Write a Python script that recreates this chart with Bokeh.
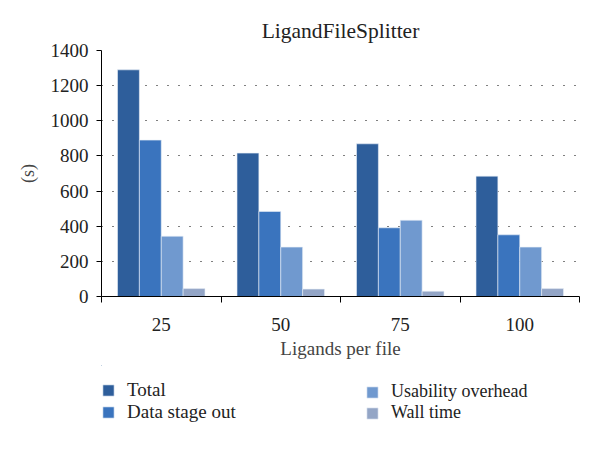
from bokeh.plotting import figure
from bokeh.layouts import column
from bokeh.models import ColumnDataSource, FixedTicker, Legend, LegendItem, Range1d
from bokeh.transform import dodge
from bokeh.embed import file_html
from bokeh.resources import INLINE

categories = ["25", "50", "75", "100"]
series_names = ["Total", "Data stage out", "Usability overhead", "Wall time"]
total = [1290, 816, 869, 685]
data_stage_out = [890, 484, 391, 351]
usability_overhead = [343, 281, 434, 281]
wall_time = [45, 42, 30, 45]
colors = ["#2E5E9B", "#3A74BE", "#7099CF", "#93A5C6"]
y_ticks = [0, 200, 400, 600, 800, 1000, 1200, 1400]

FONT = "Liberation Serif"

xs = [i + 0.5 for i in range(len(categories))]
source = ColumnDataSource(dict(x=xs, total=total, dso=data_stage_out,
                               uo=usability_overhead, wt=wall_time))

p = figure(width=592, height=365, output_backend="svg", toolbar_location=None,
           x_range=Range1d(0, len(categories)), y_range=Range1d(0, 1400),
           min_border_left=101, min_border_right=13, min_border_top=50,
           min_border_bottom=69, title="LigandFileSplitter")
p.outline_line_color = None
p.background_fill_color = "white"

w = 0.183
cols = ["total", "dso", "uo", "wt"]
for k, (c, col) in enumerate(zip(cols, colors)):
    off = (k - 1.5) * w
    p.vbar(x=dodge("x", off), top=c, width=w, source=source,
           fill_color=col, line_color="#E8EEF6", line_width=0.6)

# title
p.title.text_font = FONT
p.title.text_font_size = "21.5px"
p.title.text_font_style = "normal"
p.title.align = "center"
p.title.text_color = "#222222"
p.title.standoff = 15

# y axis
p.yaxis.ticker = FixedTicker(ticks=y_ticks)
p.yaxis.axis_label = "(s)"
p.yaxis.axis_label_text_font = FONT
p.yaxis.axis_label_text_font_size = "18px"
p.yaxis.axis_label_text_font_style = "normal"
p.yaxis.axis_label_standoff = 10
p.yaxis.major_label_text_font = FONT
p.yaxis.major_label_text_font_size = "19px"
p.yaxis.major_label_text_color = "#222222"
p.yaxis.major_tick_out = 5
p.yaxis.major_tick_in = 0
p.yaxis.minor_tick_line_color = None
p.yaxis.axis_line_color = "black"
p.yaxis.major_tick_line_color = "black"
p.yaxis.major_label_standoff = 8

# x axis
p.xaxis.ticker = FixedTicker(ticks=xs, minor_ticks=list(range(len(categories) + 1)))
p.xaxis.major_label_overrides = {x: c for x, c in zip(xs, categories)}
p.xaxis.major_tick_line_color = None
p.xaxis.minor_tick_line_color = "black"
p.xaxis.minor_tick_out = 6
p.xaxis.minor_tick_in = 0
p.xaxis.axis_label = "Ligands per file"
p.xaxis.axis_label_text_font = FONT
p.xaxis.axis_label_text_font_size = "19px"
p.xaxis.axis_label_text_font_style = "normal"
p.xaxis.axis_label_standoff = 4
p.xaxis.major_label_text_font = FONT
p.xaxis.major_label_text_font_size = "19px"
p.xaxis.major_label_text_color = "#222222"
p.xaxis.major_label_standoff = 15
p.xaxis.axis_line_color = "black"

# grid
p.xgrid.grid_line_color = None
p.ygrid.ticker = FixedTicker(ticks=y_ticks[1:])
p.ygrid.grid_line_color = "black"
p.ygrid.grid_line_dash = "1 10"
p.ygrid.grid_line_width = 1.2

# legend panel (separate figure below the chart); its bars lie outside its view
lp = figure(width=592, height=76, output_backend="svg", toolbar_location=None,
            x_axis_type=None, y_axis_type=None, min_border=0,
            x_range=Range1d(100, 101), y_range=Range1d(-2000, -1000))
lp.outline_line_color = None
lp.grid.grid_line_color = None
swatches = []
for k, (c, col) in enumerate(zip(cols, colors)):
    off = (k - 1.5) * w
    swatches.append(lp.vbar(x=dodge("x", off), top=c, width=w, source=source,
                            fill_color=col, line_color="#E8EEF6", line_width=0.6))

def make_legend(idx, loc, size):
    items = [LegendItem(label=series_names[i], renderers=[swatches[i]]) for i in idx]
    return Legend(items=items, location=loc, orientation="vertical",
                  glyph_width=14, glyph_height=14, label_height=14, spacing=0,
                  label_standoff=12, padding=0, margin=0,
                  border_line_color=None, background_fill_alpha=0,
                  label_text_font=FONT, label_text_font_size=size,
                  label_text_color="#222222")

lp.add_layout(make_legend([0, 1], (0, 18), "19px"), "center")
lp.add_layout(make_legend([2, 3], (264, 18), "18px"), "center")

layout = column(p, lp, spacing=0)
open("out.html", "w").write(file_html(layout, INLINE))
